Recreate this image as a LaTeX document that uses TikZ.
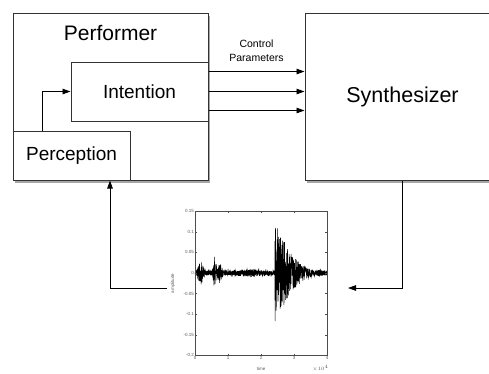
\documentclass[tikz,border=0pt]{standalone}
\usepackage{fontspec}
\setmainfont{Liberation Sans}
\usetikzlibrary{arrows.meta,shadows,calc,positioning}

\tikzset{
  block/.style={draw=black!80, line width=1pt, fill=white, inner sep=0pt},
  shadowed/.style={drop shadow={shadow xshift=1.5pt, shadow yshift=-2.5pt, opacity=0.35, fill=black}},
  arr/.style={-{Triangle[length=8pt,width=5.5pt]}, line width=0.9pt},
  ticklab/.style={font=\fontsize{4.5}{5}\selectfont, text=black!65, inner sep=1pt},
}

\begin{document}
\begin{tikzpicture}[x=1pt, y=-1pt,
  declare function={env(\t)=0.006 + 0.024*max(0,1-abs(\t-0.18)/0.14) + 0.035*max(0,1-abs(\t-0.6)/0.08)
    + 0.02*max(0,1-abs(\t-0.75)/0.12) + 0.004*max(0,1-abs(\t-1.7)/0.5)
    + (\t>2.42)*(0.11*max(0,1-(\t-2.42)/1.2)^2 + 0.008*max(0,1-(\t-2.42)/1.6));}]
\useasboundingbox (0,0) rectangle (489,373);

% blocks
\node[block, shadowed, minimum width=195pt, minimum height=167pt] (performer) at (110.5,96.5) {};
\node[font=\fontsize{21}{24}\selectfont] (performertxt) at ($(performer.north)+(0,20.5)$) {Performer};
\node[block, minimum width=137pt, minimum height=59pt, font=\fontsize{19}{22}\selectfont] (intention) at (139.5,91.5) {Intention};
\node[block, minimum width=117pt, minimum height=49pt, font=\fontsize{19}{22}\selectfont] (perception) at (71.5,155.5) {Perception};
\node[block, shadowed, minimum width=195pt, minimum height=167pt, font=\fontsize{21.5}{24}\selectfont] (synth) at (402.5,96.5) {Synthesizer};

% control parameters
\node[align=center, font=\fontsize{10.5}{14}\selectfont] (ctrl) at ($(performer.east)!0.5!(synth.west)+(0,-45.5)$) {Control\\Parameters};
\foreach \dy in {20,0,-19}
  \draw[arr] ([yshift=\dy pt]intention.east) -- ([yshift=\dy pt]intention.east -| synth.west);
\draw[arr] ([xshift=-29.5pt]perception.north) |- (intention.west);

% sound signal
\begin{scope}[shift={(195,273)}, x=33pt, y=412pt]
  \pgfmathsetseed{7}
  \draw[black, line width=0.5pt] plot[domain=0:4, samples=1201] (\x, {env(\x)*rand});
  \draw[black!70, line width=0.5pt] (0,-0.2) rectangle (4,0.15);
  \foreach \v in {0.15,0.1,0.05,0,-0.05,-0.1,-0.15,-0.2} {
    \draw[black!70, line width=0.4pt] (0,\v) -- ++(0.05,0) (4,\v) -- ++(-0.05,0);
    \node[ticklab, anchor=east] at (0,\v) {\v};
  }
  \foreach \t in {0,1,2,3,4} {
    \draw[black!70, line width=0.4pt] (\t,-0.2) -- ++(0,0.004) (\t,0.15) -- ++(0,-0.004);
    \node[ticklab, anchor=north] at (\t,-0.2) {\t};
  }
  \node[ticklab] (timelab) at (2,-0.233) {time};
  \node[ticklab, rotate=90] (amplab) at (-0.67,-0.025) {amplitude};
  \node[ticklab] (scalelab) at (3.8,-0.232) {$\times10^4$};
\end{scope}

% feedback connectors
\coordinate (sigL) at (167,288);
\coordinate (bendL) at (110,288);
\coordinate (sigR) at (348,288);
\draw[arr] (sigL) -- (bendL) -- (bendL |- performer.south);
\draw[arr] (synth.south) |- (sigR);
\end{tikzpicture}
\end{document}
